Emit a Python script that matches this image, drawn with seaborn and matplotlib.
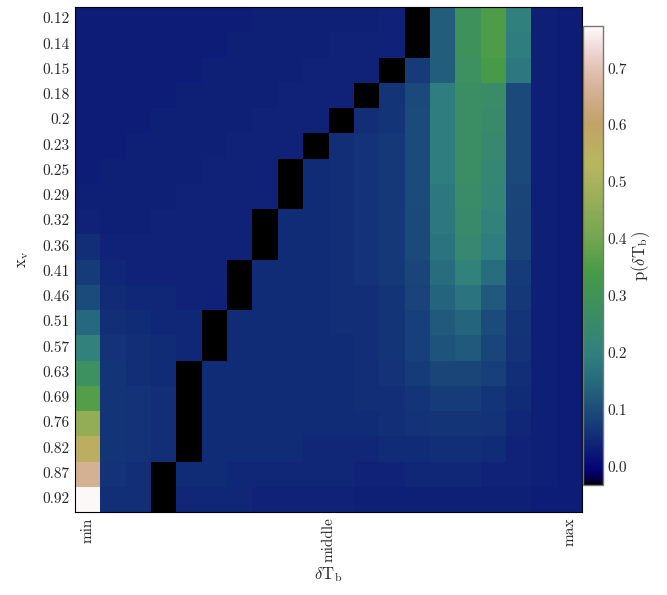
import numpy as np
import pandas as pd
import matplotlib.pyplot as plt
import seaborn as sns

# masked cells (drawn black)
M = np.nan

x_v = ["0.12", "0.14", "0.15", "0.18", "0.2", "0.23", "0.25", "0.29", "0.32", "0.36",
       "0.41", "0.46", "0.51", "0.57", "0.63", "0.69", "0.76", "0.82", "0.87", "0.92"]
dT_labels = ["min", "middle", "max"]
cbar_ticks = [0.0, 0.1, 0.2, 0.3, 0.4, 0.5, 0.6, 0.7]

# p(dT_b) per x_v row, 20 dT_b bins
p_012 = [0.03, 0.03, 0.03, 0.03, 0.03, 0.03, 0.03, 0.035, 0.035, 0.035, 0.035, 0.035, 0.04, M, 0.13, 0.29, 0.35, 0.20, 0.035, 0.03]
p_014 = [0.03, 0.03, 0.03, 0.03, 0.03, 0.03, 0.035, 0.035, 0.035, 0.035, 0.04, 0.04, 0.04, M, 0.13, 0.29, 0.35, 0.19, 0.035, 0.03]
p_015 = [0.03, 0.03, 0.03, 0.03, 0.03, 0.035, 0.035, 0.035, 0.035, 0.04, 0.04, 0.04, M, 0.075, 0.13, 0.28, 0.34, 0.18, 0.035, 0.03]
p_018 = [0.03, 0.03, 0.03, 0.03, 0.035, 0.035, 0.035, 0.035, 0.04, 0.04, 0.04, M, 0.065, 0.095, 0.19, 0.27, 0.26, 0.095, 0.035, 0.03]
p_020 = [0.03, 0.03, 0.03, 0.035, 0.035, 0.035, 0.035, 0.04, 0.04, 0.04, M, 0.055, 0.065, 0.10, 0.19, 0.27, 0.25, 0.095, 0.035, 0.03]
p_023 = [0.03, 0.03, 0.035, 0.035, 0.035, 0.035, 0.04, 0.04, 0.04, M, 0.055, 0.06, 0.07, 0.10, 0.19, 0.27, 0.24, 0.095, 0.035, 0.03]
p_025 = [0.03, 0.035, 0.035, 0.035, 0.035, 0.04, 0.04, 0.04, M, 0.05, 0.055, 0.06, 0.07, 0.10, 0.19, 0.27, 0.23, 0.095, 0.035, 0.03]
p_029 = [0.035, 0.035, 0.035, 0.035, 0.04, 0.04, 0.04, 0.04, M, 0.05, 0.055, 0.06, 0.07, 0.10, 0.18, 0.26, 0.22, 0.09, 0.035, 0.03]
p_032 = [0.04, 0.035, 0.035, 0.04, 0.04, 0.04, 0.04, M, 0.05, 0.05, 0.055, 0.06, 0.07, 0.095, 0.18, 0.25, 0.21, 0.085, 0.035, 0.03]
p_036 = [0.055, 0.04, 0.04, 0.04, 0.04, 0.04, 0.04, M, 0.05, 0.05, 0.055, 0.06, 0.07, 0.095, 0.17, 0.24, 0.19, 0.085, 0.035, 0.03]
p_041 = [0.075, 0.045, 0.04, 0.04, 0.04, 0.04, M, 0.05, 0.05, 0.05, 0.055, 0.06, 0.07, 0.09, 0.16, 0.21, 0.16, 0.075, 0.035, 0.03]
p_046 = [0.10, 0.05, 0.045, 0.045, 0.04, 0.04, M, 0.05, 0.05, 0.05, 0.055, 0.055, 0.065, 0.085, 0.14, 0.17, 0.12, 0.07, 0.035, 0.03]
p_051 = [0.15, 0.055, 0.05, 0.045, 0.045, M, 0.05, 0.05, 0.05, 0.05, 0.055, 0.055, 0.065, 0.08, 0.12, 0.14, 0.10, 0.065, 0.035, 0.03]
p_057 = [0.21, 0.06, 0.055, 0.05, 0.045, M, 0.05, 0.05, 0.05, 0.05, 0.05, 0.055, 0.065, 0.08, 0.11, 0.12, 0.09, 0.06, 0.035, 0.03]
p_063 = [0.28, 0.065, 0.055, 0.05, M, 0.05, 0.05, 0.05, 0.05, 0.05, 0.05, 0.055, 0.06, 0.075, 0.09, 0.09, 0.08, 0.055, 0.035, 0.03]
p_069 = [0.36, 0.065, 0.06, 0.055, M, 0.05, 0.05, 0.05, 0.05, 0.05, 0.05, 0.055, 0.055, 0.065, 0.075, 0.075, 0.065, 0.05, 0.035, 0.03]
p_076 = [0.46, 0.065, 0.06, 0.055, M, 0.05, 0.05, 0.05, 0.05, 0.05, 0.05, 0.05, 0.055, 0.06, 0.065, 0.065, 0.06, 0.045, 0.035, 0.03]
p_082 = [0.56, 0.065, 0.06, 0.055, M, 0.05, 0.05, 0.05, 0.05, 0.045, 0.045, 0.045, 0.05, 0.05, 0.055, 0.055, 0.05, 0.04, 0.035, 0.03]
p_087 = [0.66, 0.06, 0.055, M, 0.05, 0.05, 0.045, 0.045, 0.045, 0.045, 0.045, 0.04, 0.04, 0.045, 0.045, 0.045, 0.04, 0.04, 0.035, 0.03]
p_092 = [0.77, 0.055, 0.055, M, 0.045, 0.045, 0.045, 0.04, 0.04, 0.04, 0.04, 0.035, 0.035, 0.035, 0.035, 0.035, 0.035, 0.035, 0.03, 0.03]

tabela = pd.DataFrame(
    [p_012, p_014, p_015, p_018, p_020, p_023, p_025, p_029, p_032, p_036,
     p_041, p_046, p_051, p_057, p_063, p_069, p_076, p_082, p_087, p_092],
    index=x_v,
)

sns.set_style("white")
plt.rcParams["font.family"] = "serif"
plt.rcParams["font.serif"] = ["cmr10", "DejaVu Serif"]
plt.rcParams["mathtext.fontset"] = "cm"
plt.rcParams["axes.formatter.use_mathtext"] = True

fig = plt.figure(figsize=(6.67, 5.95), dpi=100)
ax = fig.add_axes([75 / 667, 83 / 595, 507 / 667, 505 / 595])
cax = fig.add_axes([583 / 667, 110 / 595, 20 / 667, 459 / 595])

# masked cells show the black background
ax.set_facecolor("black")
sns.heatmap(tabela, ax=ax, cbar_ax=cax, cmap="gist_earth", vmin=-0.032, vmax=0.774,
            xticklabels=False, yticklabels=True)

ax.set_xticks([0.5, 10, 19.5])
ax.set_xticklabels(dT_labels, rotation=90, fontsize=11)
ax.set_yticklabels(x_v, rotation=0, fontsize=11)
ax.tick_params(direction="in", length=4, width=0.6, color="black", pad=4)
for s in ax.spines.values():
    s.set_visible(True)
    s.set_linewidth(0.8)
    s.set_color("black")

ax.set_xlabel(r"$\delta\mathrm{T}_\mathrm{b}$", fontsize=12, labelpad=2)
ax.set_ylabel(r"$\mathrm{x}_\mathrm{v}$", fontsize=12, labelpad=8)

cbar = ax.collections[0].colorbar
cbar.set_ticks(cbar_ticks)
cbar.set_ticklabels([f"{t:.1f}" for t in cbar_ticks])
cbar.ax.tick_params(direction="in", length=5, width=0.6, labelsize=11, pad=3)
cbar.outline.set_edgecolor("#777777")
cbar.outline.set_linewidth(1.0)
cbar.set_label(r"$\mathrm{p}(\delta\mathrm{T}_\mathrm{b})$", fontsize=12, labelpad=2)

fig.savefig("out.png", dpi=100)
